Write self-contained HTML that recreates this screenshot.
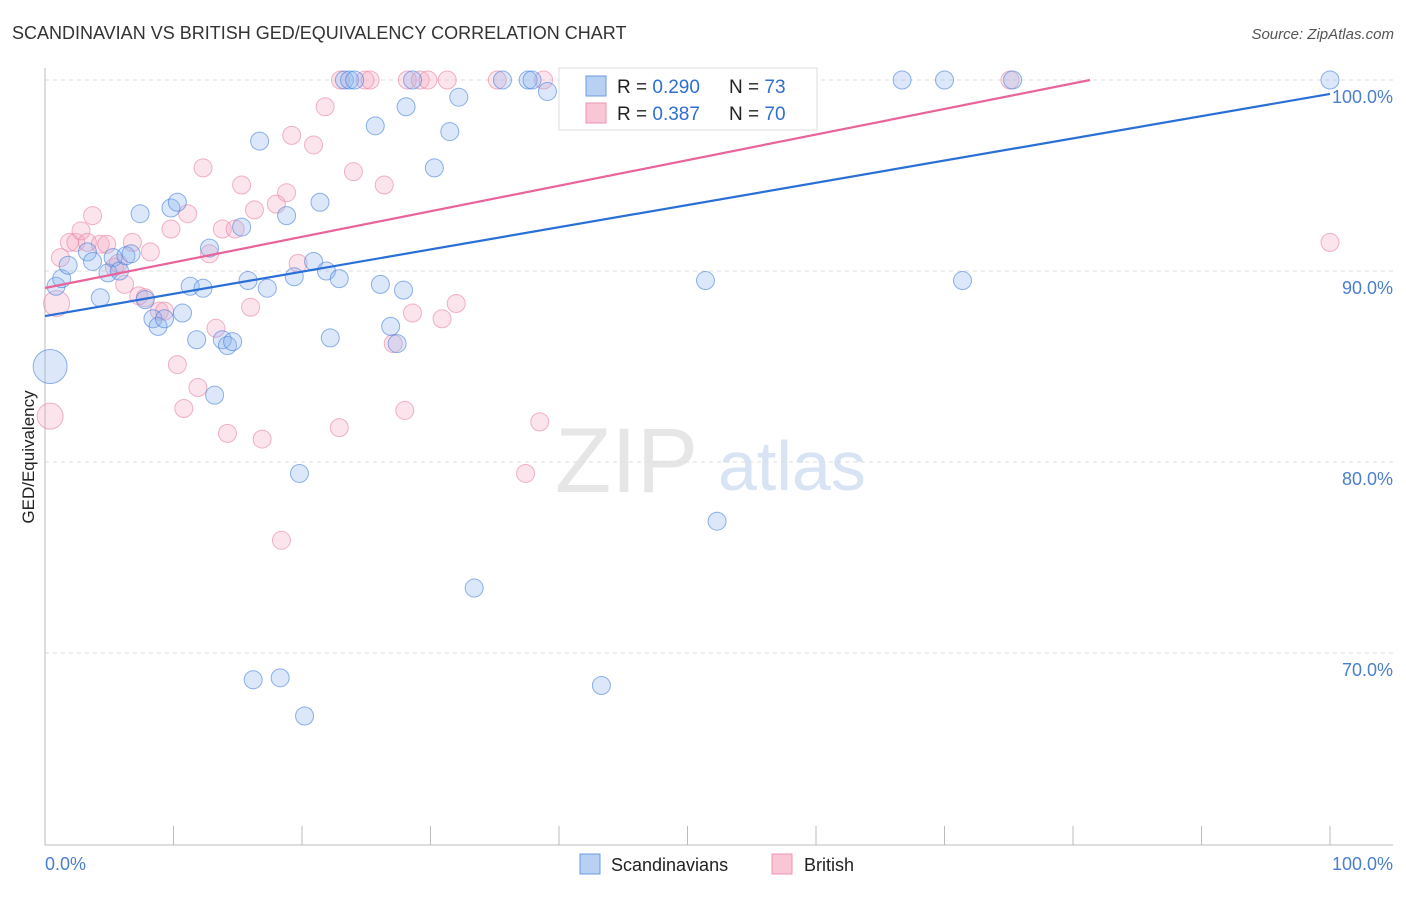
<!DOCTYPE html>
<html><head><meta charset="utf-8"><style>
body{margin:0;background:#fff;font-family:"Liberation Sans",sans-serif;}
svg text{font-family:"Liberation Sans",sans-serif;}
</style></head><body>
<svg id="chart" width="1406" height="892" xmlns="http://www.w3.org/2000/svg">
<text x="12" y="39" font-size="18" fill="#333">SCANDINAVIAN VS BRITISH GED/EQUIVALENCY CORRELATION CHART</text>
<text x="1394" y="39" font-size="15" fill="#555" text-anchor="end" font-style="italic">Source: ZipAtlas.com</text>
<text x="555" y="492" font-size="92" fill="#e6e6e6" font-family="Liberation Serif">ZIP</text>
<text x="718" y="490" font-size="70" fill="#d8e4f4">atlas</text>
<g id="grid"></g>
<g id="axes"></g>
<g id="marks"></g>
<text transform="translate(34,457) rotate(-90)" font-size="17" fill="#222" text-anchor="middle">GED/Equivalency</text>
<text x="45" y="870" font-size="18" fill="#4a7fd0">0.0%</text>
<text x="1393" y="870" font-size="18" fill="#4a7fd0" text-anchor="end">100.0%</text>
<g>
<rect x="559" y="68" width="258" height="62" fill="#fff" stroke="#ddd"/>
<rect x="586" y="76" width="20" height="20" fill="#b8d0f2" stroke="#6c9ae0"/>
<rect x="586" y="103" width="20" height="20" fill="#f9c6d6" stroke="#ec92b0"/>
<text x="617" y="93" font-size="19" fill="#222">R = <tspan fill="#2f6fd0">0.290</tspan></text>
<text x="729" y="93" font-size="19" fill="#222">N = <tspan fill="#2f6fd0">73</tspan></text>
<text x="617" y="120" font-size="19" fill="#222">R = <tspan fill="#2f6fd0"> 0.387</tspan></text>
<text x="729" y="120" font-size="19" fill="#222">N = <tspan fill="#2f6fd0">70</tspan></text>
</g>
<g>
<rect x="580" y="854" width="20" height="20" fill="#b8d0f2" stroke="#6c9ae0"/>
<text x="611" y="871" font-size="18" fill="#222">Scandinavians</text>
<rect x="772" y="854" width="20" height="20" fill="#f9c6d6" stroke="#ec92b0"/>
<text x="804" y="871" font-size="18" fill="#222">British</text>
</g>
</svg>
<script>
const blueX=[0.86,1.3,1.8,3.3,3.7,4.3,4.9,5.3,5.8,6.3,6.7,7.4,7.8,8.4,8.8,9.3,9.8,10.3,10.7,11.3,11.8,12.3,12.8,13.2,13.8,14.2,14.6,15.3,15.8,16.2,16.7,17.3,18.3,18.8,19.4,19.8,20.2,20.9,21.4,21.9,22.2,22.9,23.3,23.7,24.1,25.7,26.1,26.9,27.4,27.9,28.1,28.6,30.3,31.5,32.2,33.4,35.6,37.6,37.9,39.1,41.6,43.3,51.4,52.3,66.7,70.0,75.3,71.4,100,0.4];
const blueY=[89.2,89.6,90.3,91.0,90.5,88.6,89.9,90.7,90.0,90.8,90.9,93.0,88.5,87.5,87.1,87.5,93.3,93.6,87.8,89.2,86.4,89.1,91.2,83.5,86.4,86.1,86.3,92.3,89.5,68.6,96.8,89.1,68.7,92.9,89.7,79.4,66.7,90.5,93.6,90.0,86.5,89.6,100,100,100,97.6,89.3,87.1,86.2,89.0,98.6,100,95.4,97.3,99.1,73.4,100,100,100,99.4,100,68.3,89.5,76.9,100,100,100,89.5,100,85.0];
const blueBig=[69];
const pinkX=[0.9,0.4,1.2,1.9,2.4,2.8,3.3,3.7,4.3,4.8,5.4,5.7,6.2,6.8,7.3,7.8,8.2,8.9,9.3,9.8,10.3,10.8,11.1,11.9,12.3,12.8,13.3,13.8,14.2,14.8,15.3,16.0,16.3,16.9,18.0,18.4,18.8,19.2,19.7,20.9,21.8,22.9,23.0,24.0,24.9,25.3,26.4,27.1,28.0,28.2,28.6,29.2,29.8,30.9,31.3,32.0,35.2,37.4,38.5,38.8,42.4,47.5,52.1,75.1,100];
const pinkY=[88.3,82.4,90.7,91.5,91.5,92.1,91.5,92.9,91.4,91.4,90.2,90.4,89.3,91.5,88.7,88.6,91.0,87.9,87.9,92.2,85.1,82.8,93.0,83.9,95.4,90.9,87.0,92.2,81.5,92.2,94.5,88.1,93.2,81.2,93.5,75.9,94.1,97.1,90.4,96.6,98.6,81.8,100,95.2,100,100,94.5,86.2,82.7,100,87.8,100,100,87.5,100,88.3,100,79.4,82.1,100,100,100,100,100,91.5];
const pinkBig=[0,1];
const blueLine=[87.64,99.27];
const pinkLine=[89.11,102.5];
const yTicks=[100,90,80,70];
const yTickLabels=["100.0%","90.0%","80.0%","70.0%"];
const xTicks=[0,10,20,30,40,50,60,70,80,90,100];
const NS="http://www.w3.org/2000/svg";
const X=v=>45+v*12.85, Y=v=>80+(100-v)*19.1;
function mk(tag,attrs,parent){const e=document.createElementNS(NS,tag);for(const k in attrs)e.setAttribute(k,attrs[k]);document.getElementById(parent).appendChild(e);return e;}
yTicks.forEach((t,i)=>{
 const g=mk('line',{x1:45,x2:1393,y1:Y(t),y2:Y(t),stroke:'#ddd','stroke-dasharray':'4,4'},'grid');
 
 
 const l=mk('text',{x:1393,y:Y(t)+23,'font-size':18,fill:'#4a7fd0','text-anchor':'end'},'grid');
 l.textContent=yTickLabels[i];
 
 
});
const ya=mk('line',{x1:45,x2:45,y1:68,y2:845,stroke:'#bbb'},'axes');


const xa=mk('line',{x1:45,x2:1393,y1:845,y2:845,stroke:'#bbb'},'axes');


xTicks.forEach(t=>{const k=mk('line',{x1:X(t),x2:X(t),y1:826,y2:845,stroke:'#bbb'},'axes');
 
 });
function dots(xs,ys,big,fill,stroke,name){xs.forEach((x,i)=>{const r=big.includes(i)?(name==='blue'?17:13):9;
 const c=mk('circle',{cx:X(x),cy:Y(ys[i]),r:r,fill:fill,stroke:stroke,'stroke-width':1},'marks');
 
 });}
dots(pinkX,pinkY,pinkBig,'rgba(244,165,192,0.3)','rgba(232,130,165,0.6)','pink');
dots(blueX,blueY,blueBig,'rgba(140,178,238,0.3)','rgba(70,128,218,0.6)','blue');
const bl=mk('line',{x1:X(0),y1:Y(blueLine[0]),x2:X(100),y2:Y(blueLine[1]),stroke:'#2a6fd6','stroke-width':2.2},'marks');


const xe=(100-pinkLine[0])/(pinkLine[1]-pinkLine[0])*100;
const pl=mk('line',{x1:X(0),y1:Y(pinkLine[0]),x2:X(xe),y2:Y(100),stroke:'#e8649a','stroke-width':2.2},'marks');


</script>
</body></html>
